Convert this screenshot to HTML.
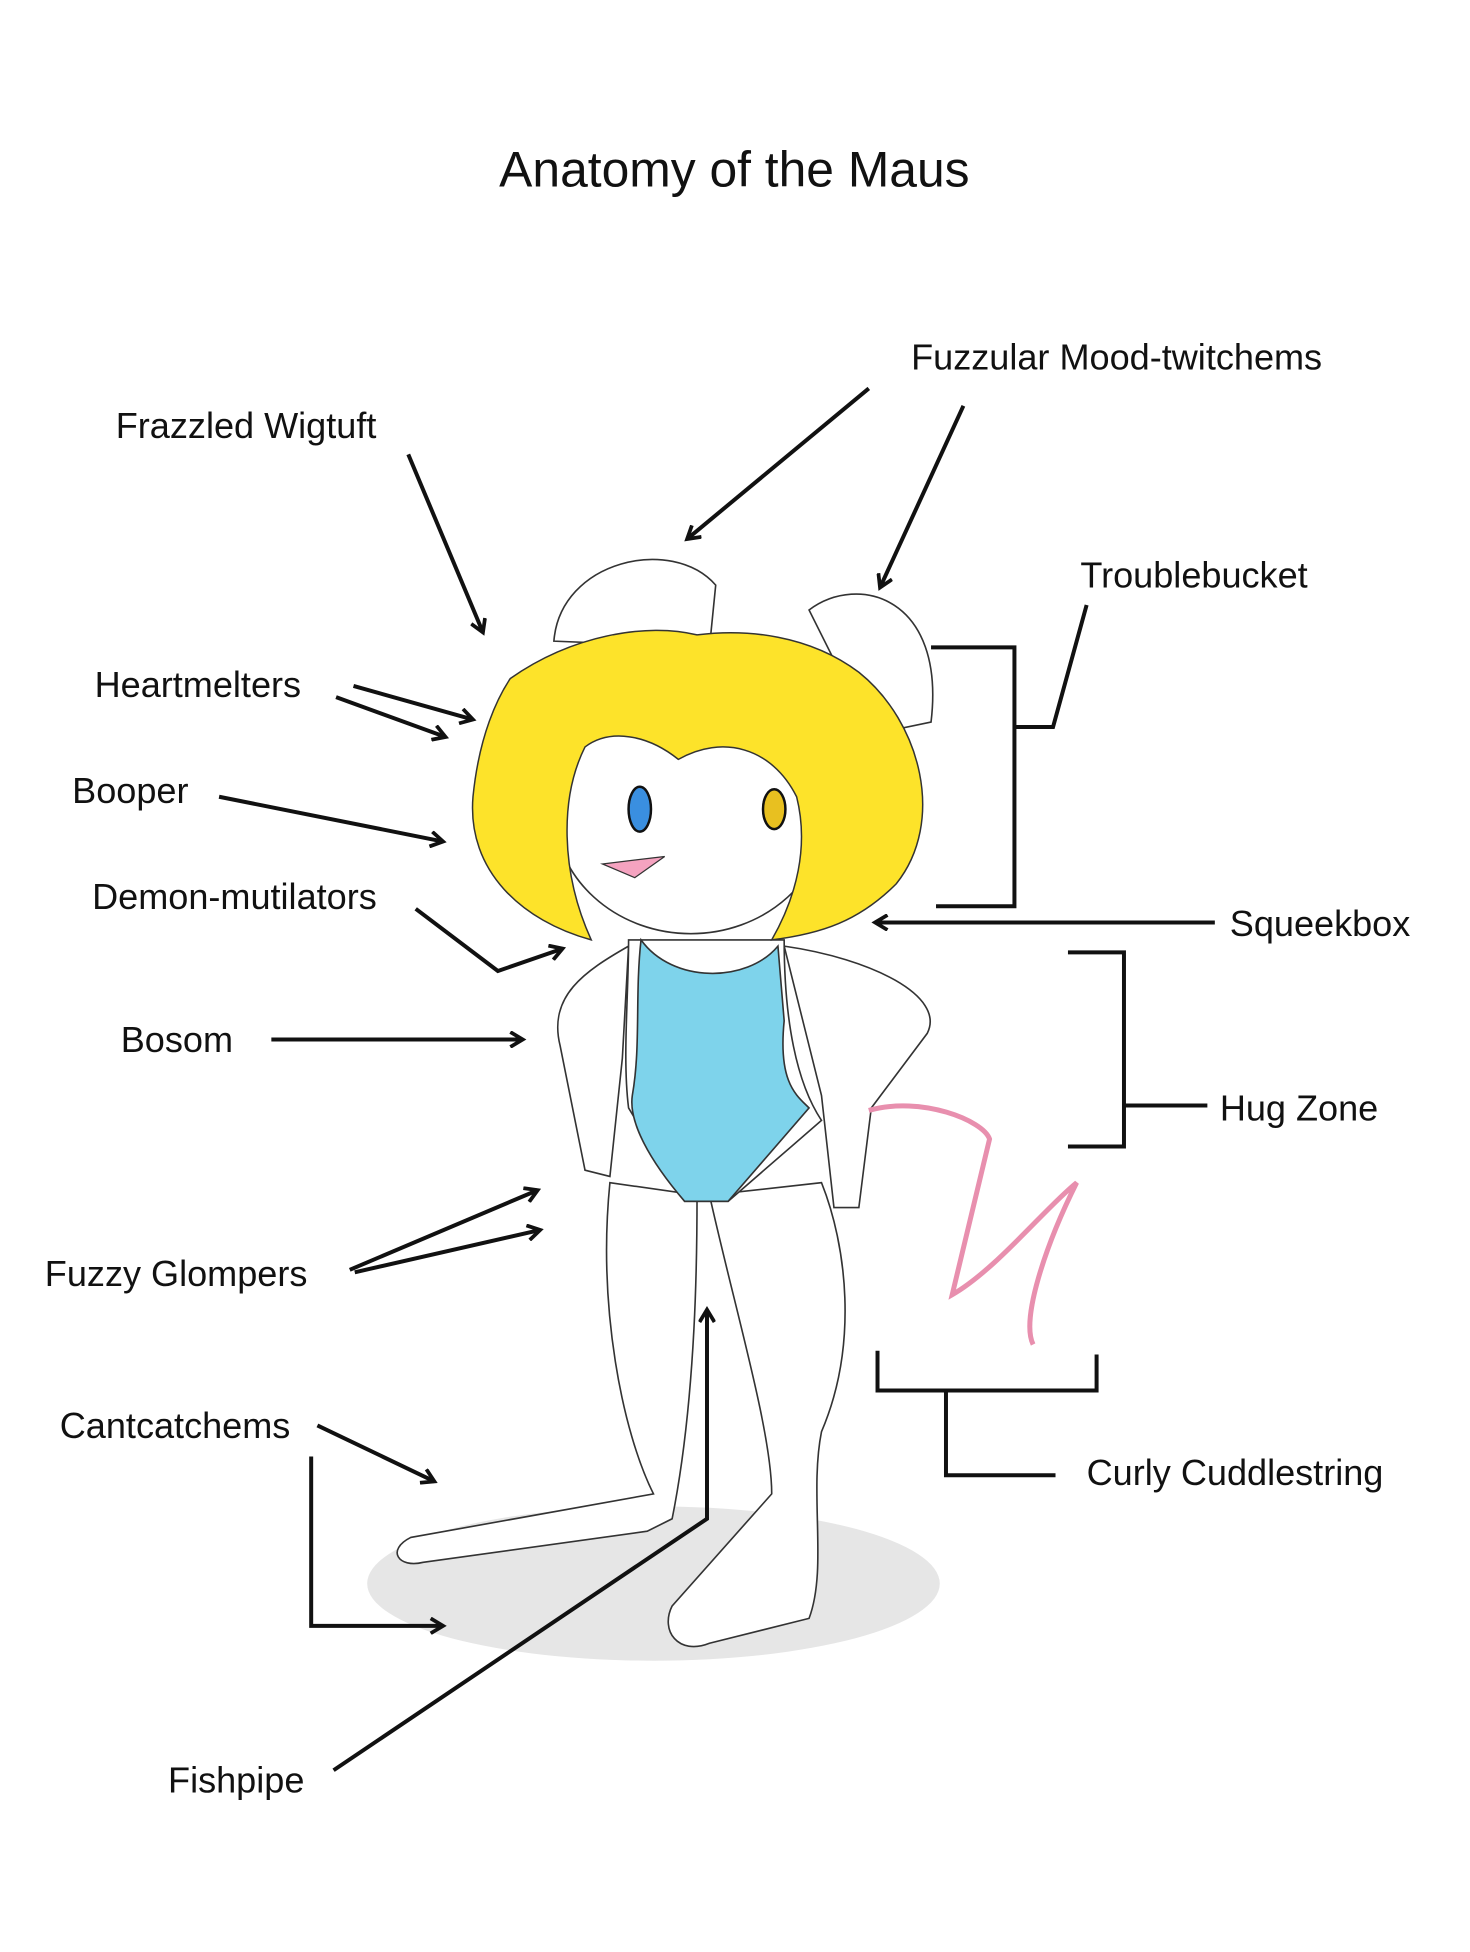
<!DOCTYPE html>
<html><head><meta charset="utf-8"><style>
html,body{margin:0;padding:0;background:#fff;}
svg{display:block;}
text{font-family:"Liberation Sans",sans-serif;fill:#111;}
</style></head><body>
<svg width="1470" height="1952" viewBox="0 0 1181 1568" preserveAspectRatio="none" xmlns="http://www.w3.org/2000/svg">
<defs>
<marker id="ah" markerWidth="14" markerHeight="14" refX="11" refY="7" orient="auto" markerUnits="userSpaceOnUse">
<path d="M1,1 L11,7 L1,13" fill="none" stroke="#111" stroke-width="3"/>
</marker>
</defs>
<rect width="1200" height="1594" fill="#fff"/>
<text x="590" y="150" font-size="40" text-anchor="middle">Anatomy of the Maus</text>

<ellipse cx="525" cy="1272" rx="230" ry="62" fill="#e6e6e6"/>
<g stroke="#333" stroke-width="1.3" fill="#fff">
<path d="M445,515 C450,450 540,430 575,470 L570,520 Z"/>
<path d="M650,490 C690,460 760,480 748,580 L700,590 Z"/>
<path d="M490,950 C480,1050 500,1150 525,1200 L330,1235 C310,1245 320,1260 340,1255 L520,1230 L540,1220 C560,1120 560,1000 560,960 Z"/>
<path d="M570,960 C590,1050 620,1150 620,1200 L540,1290 C530,1310 545,1330 570,1320 L650,1300 C665,1260 650,1200 660,1150 C690,1080 680,1000 660,950 Z"/>
<path d="M505,760 C470,780 440,800 450,840 L470,940 L490,945 L500,850 Z"/>
<path d="M630,760 C700,770 760,800 745,830 L700,890 L690,970 L670,970 L660,880 Z"/>
<path d="M505,755 L630,755 C630,820 640,870 660,900 L585,965 L550,965 L505,890 C500,850 505,800 505,755 Z"/>
</g>
<path d="M515,755 C540,790 600,790 625,760 L630,820 C625,870 640,880 650,890 L585,965 L550,965 C520,930 505,900 508,880 C515,840 510,800 515,755 Z" fill="#7ed3eb" stroke="#333" stroke-width="1.3"/>
<ellipse cx="555" cy="650" rx="110" ry="100" fill="#fff" stroke="#333" stroke-width="1.3"/>
<path d="M410,545 C460,510 520,500 560,510 C600,505 650,510 690,540 C740,580 760,660 720,710 C690,740 660,750 620,755 C640,720 650,680 640,640 C620,600 580,590 545,610 C520,590 490,585 470,600 C450,640 450,700 475,755 C420,740 375,700 380,640 C385,590 400,560 410,545 Z" fill="#fde32a" stroke="#333" stroke-width="1.2"/>
<ellipse cx="514" cy="650" rx="9" ry="18" fill="#3a8fe0" stroke="#111" stroke-width="2"/>
<ellipse cx="622" cy="650" rx="9" ry="16" fill="#e8c020" stroke="#111" stroke-width="2"/>
<path d="M484,694 L534,688 L510,705 Z" fill="#f5a3c0" stroke="#333" stroke-width="1"/>
<path d="M698,892 C740,880 790,900 795,915 L765,1040 C800,1020 840,970 865,950 C840,1000 820,1060 830,1080" fill="none" stroke="#e88fae" stroke-width="4"/>

<g font-size="29">
<text x="93" y="352">Frazzled Wigtuft</text>
<text x="732" y="297">Fuzzular Mood-twitchems</text>
<text x="868" y="472">Troublebucket</text>
<text x="76" y="560">Heartmelters</text>
<text x="58" y="645">Booper</text>
<text x="74" y="730">Demon-mutilators</text>
<text x="988" y="752">Squeekbox</text>
<text x="97" y="845">Bosom</text>
<text x="980" y="900">Hug Zone</text>
<text x="36" y="1033">Fuzzy Glompers</text>
<text x="48" y="1155">Cantcatchems</text>
<text x="873" y="1193">Curly Cuddlestring</text>
<text x="135" y="1440">Fishpipe</text>
</g>

<g stroke="#111" stroke-width="3.2" fill="none">
<line x1="328" y1="365" x2="388" y2="508" marker-end="url(#ah)"/>
<line x1="698" y1="312" x2="552" y2="433" marker-end="url(#ah)"/>
<line x1="774" y1="326" x2="707" y2="472" marker-end="url(#ah)"/>
<path d="M748,520 H815 V728 H752 M815,584 H846 L873,486"/>
<line x1="284" y1="551" x2="380" y2="578" marker-end="url(#ah)"/>
<line x1="270" y1="560" x2="358" y2="592" marker-end="url(#ah)"/>
<line x1="176" y1="640" x2="356" y2="676" marker-end="url(#ah)"/>
<polyline points="334,730 400,780 452,762" marker-end="url(#ah)"/>
<line x1="976" y1="741" x2="703" y2="741" marker-end="url(#ah)"/>
<path d="M858,765 H903 V921 H858 M903,888 H970"/>
<line x1="218" y1="835" x2="420" y2="835" marker-end="url(#ah)"/>
<line x1="281" y1="1020" x2="432" y2="956" marker-end="url(#ah)"/>
<line x1="285" y1="1022" x2="434" y2="988" marker-end="url(#ah)"/>
<line x1="255" y1="1145" x2="349" y2="1190" marker-end="url(#ah)"/>
<polyline points="250,1170 250,1306 356,1306" marker-end="url(#ah)"/>
<path d="M705,1085 V1117 H881 V1088 M760,1117 V1185 H848"/>
<polyline points="268,1422 568,1220 568,1052" marker-end="url(#ah)"/>
</g>
</svg>
</body></html>
